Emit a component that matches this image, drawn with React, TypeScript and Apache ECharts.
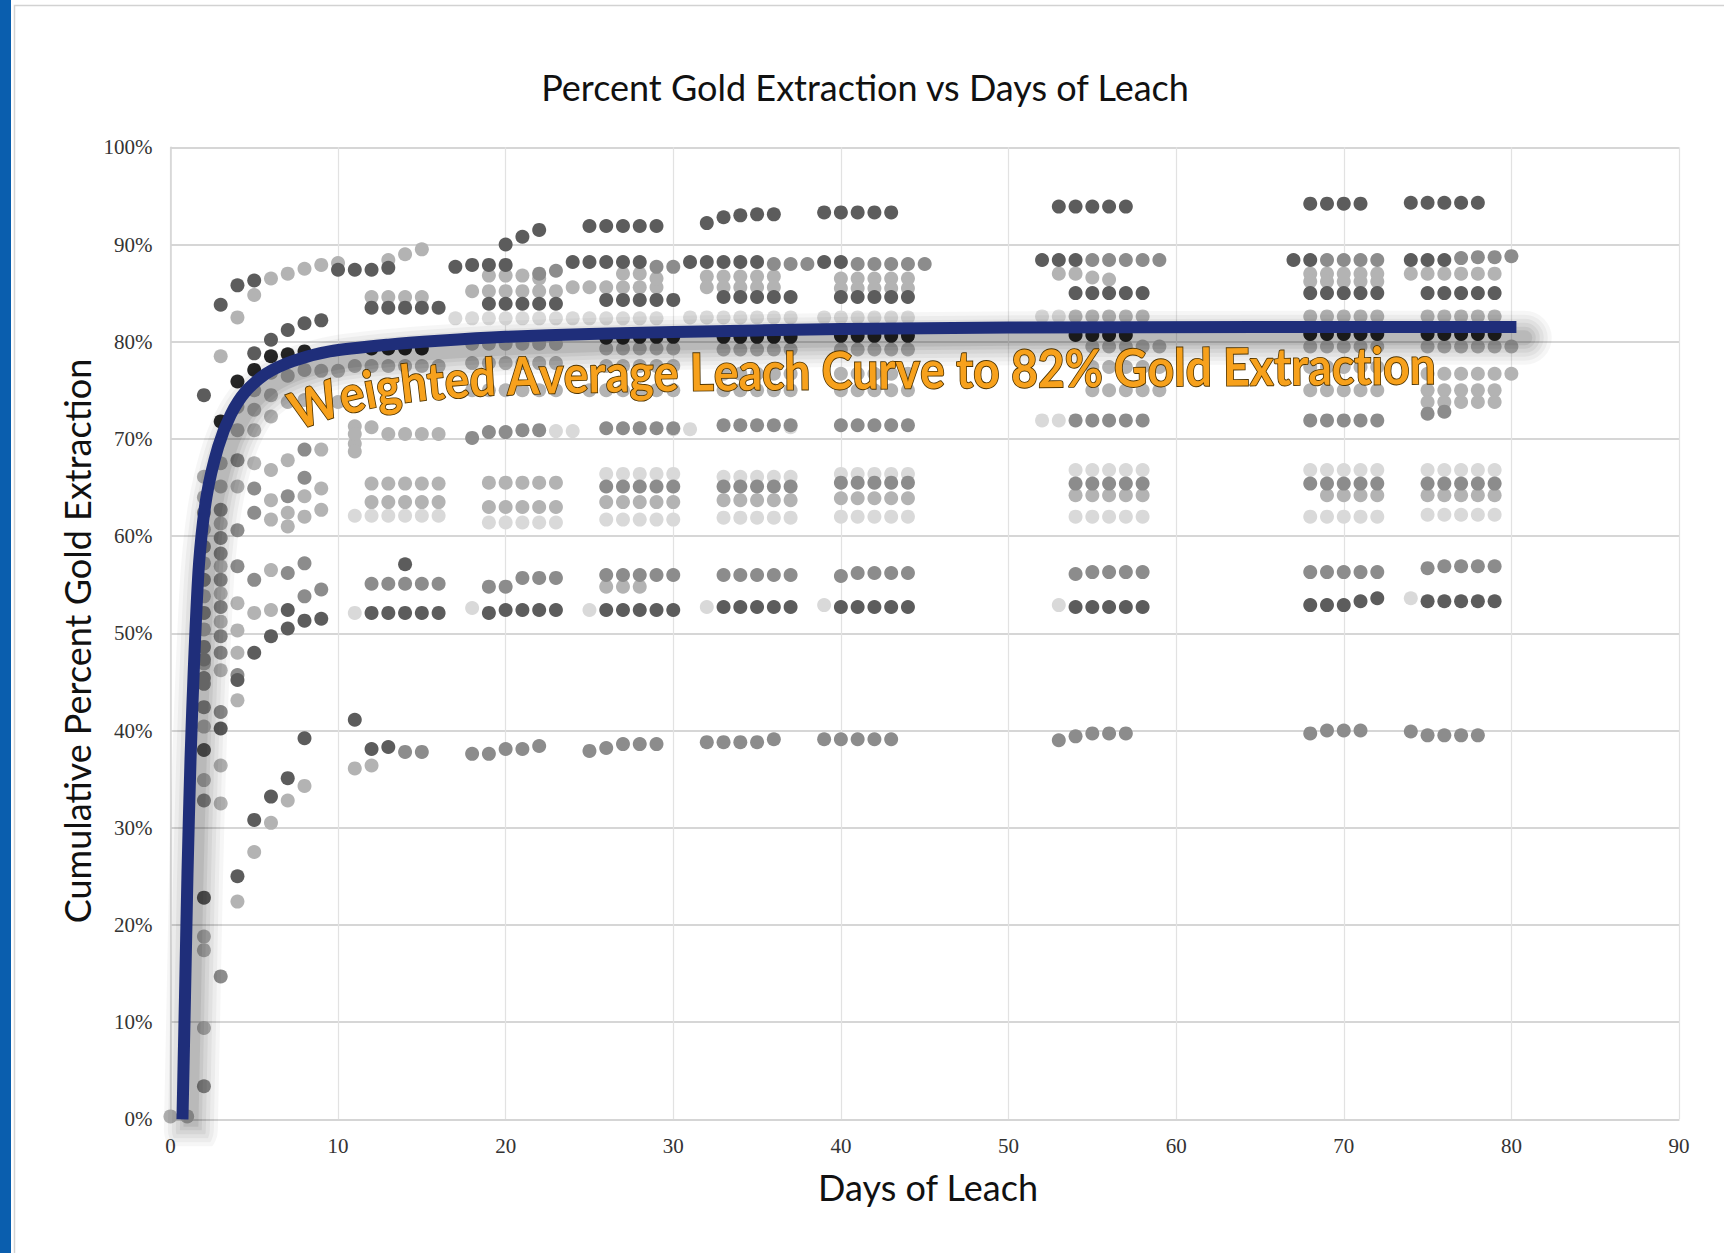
import React, { useEffect, useRef } from "react";
import * as echarts from "echarts";

// ---------- data ----------
const titleText = "Percent Gold Extraction vs Days of Leach";
const xAxisName = "Days of Leach";
const yAxisName = "Cumulative Percent Gold Extraction";
const curveLabel = "Weighted Average Leach Curve to 82% Gold Extraction";

// weighted average leach curve
const curveDays = [0.72, 0.87, 1.02, 1.2, 1.41, 1.71, 2.16, 2.85, 3.6, 4.5, 5.7, 7.3, 9.5, 13, 16, 20, 25, 30, 40, 50, 65, 80.3];
const curvePct = [0, 12.5, 25.3, 37, 46.9, 57.2, 64.1, 69.2, 72.5, 74.9, 76.7, 78.0, 79.0, 79.7, 80.1, 80.5, 80.8, 81.0, 81.3, 81.45, 81.5, 81.5];

// runs: [first day, value on that day, value next day, ...]
const blackRuns = [
  [3, 71.8, 75.9, 77.1, 78.5, 78.7, 79.0],
  [12, 79.3, 79.3, 79.3, 79.3],
  [26, 80.4, 80.4, 80.5, 80.5, 80.5],
  [33, 80.5, 80.5, 80.5, 80.5, 80.5],
  [40, 80.6, 80.6, 80.6, 80.6, 80.6],
  [54, 80.7, 80.7, 80.7, 80.7],
  [68, 80.8, 80.8, 80.8, 80.8, 80.8],
  [75, 80.8, 80.8, 80.8, 80.8, 80.8],
];

const darkRuns = [
  [2, 74.5], [3, 83.8, 85.8, 86.3], [5, 78.8], [6, 80.2, 81.2, 81.9, 82.2],
  [10, 87.4, 87.4, 87.4, 87.6],
  [4, 45.2, 48.0, 49.7, 50.5, 51.3, 51.5], [7, 52.4],
  [2, 38.0, 40.2], [4, 25.0, 30.8, 33.2, 35.1, 39.2], [11, 41.1], [2, 22.8],
  [12, 83.5, 83.5, 83.5, 83.5, 83.5], [14, 57.1], [12, 52.1, 52.1, 52.1, 52.1, 52.1], [12, 38.1, 38.3],
  [17, 87.7, 87.9, 87.9, 87.9], [20, 90.0, 90.8, 91.5], [19, 83.9, 83.9, 83.9, 83.9, 83.9], [19, 52.1, 52.4, 52.4, 52.4, 52.4],
  [25, 91.9, 91.9, 91.9, 91.9, 91.9], [24, 88.2, 88.2, 88.2, 88.2, 88.2], [26, 84.3, 84.3, 84.3, 84.3, 84.3], [26, 52.4, 52.4, 52.4, 52.4, 52.4],
  [32, 92.2, 92.8, 93.0, 93.1, 93.1], [31, 88.2, 88.2, 88.2, 88.2, 88.2], [33, 84.6, 84.6, 84.6, 84.6, 84.6], [33, 52.7, 52.7, 52.7, 52.7, 52.7],
  [39, 93.3, 93.3, 93.3, 93.3, 93.3], [39, 88.2, 88.2], [40, 84.6, 84.6, 84.6, 84.6, 84.6], [40, 52.7, 52.7, 52.7, 52.7, 52.7],
  [53, 93.9, 93.9, 93.9, 93.9, 93.9], [52, 88.4, 88.4, 88.4], [54, 85.0, 85.0, 85.0, 85.0, 85.0], [54, 52.7, 52.7, 52.7, 52.7, 52.7],
  [68, 94.2, 94.2, 94.2, 94.2], [67, 88.4, 88.4], [68, 85.0, 85.0, 85.0, 85.0, 85.0], [68, 52.9, 52.9, 52.9, 53.3, 53.6],
  [74, 94.3, 94.3, 94.3, 94.3, 94.3], [74, 88.4, 88.4, 88.4], [75, 85.0, 85.0, 85.0, 85.0, 85.0], [75, 53.3, 53.3, 53.3, 53.3, 53.3],
];

// cols: [day, value, value, ...]
const midCols = [
  [2, 62.4, 58.9, 55.5, 52.1, 48.6, 47.3, 45.4, 44.8, 42.4, 32.8, 3.4],
  [3, 62.7, 59.8, 58.2, 55.5, 52.7, 49.7, 48.0, 41.9, 14.7],
  [4, 67.8, 60.6, 56.9, 45.7],
  [5, 64.9, 62.4, 55.5],
  [7, 64.1, 56.2],
  [8, 68.9, 66.0, 57.2, 53.8],
  [9, 54.5],
];

const midRuns = [
  [12, 55.1, 55.1, 55.1, 55.1, 55.1], [14, 37.8, 37.8],
  [22, 87.0, 87.3], [19, 54.8, 54.8], [21, 55.7, 55.7, 55.7], [18, 37.6, 37.6, 38.1, 38.1, 38.4], [18, 70.1, 70.7, 70.7, 70.9, 70.9],
  [29, 87.7, 87.7], [26, 71.1, 71.1, 71.1, 71.1, 71.1], [26, 65.1, 65.1, 65.1, 65.1, 65.1], [26, 56.0, 56.0, 56.0, 56.0, 56.0], [25, 37.9, 38.2, 38.6, 38.6, 38.6],
  [36, 88.0, 88.0, 88.0], [33, 71.4, 71.4, 71.4, 71.4, 71.4], [33, 65.1, 65.1, 65.1, 65.1, 65.1], [33, 56.0, 56.0, 56.0, 56.0, 56.0], [32, 38.8, 38.8, 38.8, 38.8, 39.1],
  [41, 88.0, 88.0, 88.0, 88.0, 88.0], [40, 71.4, 71.4, 71.4, 71.4, 71.4], [40, 65.5, 65.5, 65.5, 65.5, 65.5], [40, 55.9, 56.2, 56.2, 56.2, 56.2], [39, 39.1, 39.1, 39.1, 39.1, 39.1],
  [55, 88.4, 88.4, 88.4, 88.4, 88.4], [54, 71.9, 71.9, 71.9, 71.9, 71.9], [54, 65.4, 65.4, 65.4, 65.4, 65.4], [54, 56.1, 56.3, 56.3, 56.3, 56.3], [53, 39.0, 39.4, 39.7, 39.7, 39.7],
  [69, 88.4, 88.4, 88.4, 88.4], [68, 71.9, 71.9, 71.9, 71.9, 71.9], [68, 65.4, 65.4, 65.4, 65.4, 65.4], [68, 56.3, 56.3, 56.3, 56.3, 56.3], [68, 39.7, 40.0, 40.0, 40.0],
  [77, 88.6, 88.7, 88.7, 88.8], [75, 72.6, 72.8], [75, 65.4, 65.4, 65.4, 65.4, 65.4], [75, 56.7, 56.9, 56.9, 56.9, 56.9], [74, 39.9, 39.5, 39.5, 39.5, 39.5],
];

const lightCols = [
  [0, 0.3], [1, 0.3],
  [2, 66.1, 64.0, 60.7, 57.2, 53.8, 50.4, 46.9, 40.4, 34.9, 18.8, 17.4, 9.4],
  [3, 78.5, 67.5, 65.1, 61.3, 56.9, 54.1, 51.2, 46.2, 36.4, 32.5],
  [4, 82.5, 73.3, 70.9, 65.1, 53.1, 50.3, 48.0, 43.1, 22.4],
  [5, 84.8, 75.0, 73.0, 70.9, 67.5, 52.1, 27.5],
  [6, 86.5, 76.8, 74.5, 72.3, 66.8, 63.7, 61.7, 56.5, 52.4, 30.5],
  [7, 87.0, 76.5, 73.8, 67.8, 62.4, 61.0, 32.8],
  [8, 87.5, 77.1, 74.0, 64.1, 62.0, 34.3],
  [9, 87.9, 77.0, 68.9, 64.9, 62.7],
  [10, 88.1, 77.0, 73.8],
  [11, 71.3, 69.5, 68.7, 36.1],
  [12, 36.4],
];

const lightRuns = [
  [13, 88.4, 89.0, 89.5], [12, 84.6, 84.6, 84.6, 84.6], [11, 77.5, 77.5, 77.5, 77.5, 77.5, 77.5],
  [11, 70.5, 71.2, 70.5, 70.5, 70.5, 70.5], [12, 65.4, 65.4, 65.4, 65.4, 65.4], [12, 63.5, 63.5, 63.5, 63.5, 63.5],
  [19, 86.8, 86.8, 86.8, 86.5], [18, 85.2, 85.2, 85.2, 85.2, 85.2, 85.2], [18, 79.8, 79.8, 79.8, 79.8, 79.8, 79.8],
  [18, 77.8, 77.8, 77.8, 77.8, 77.8, 77.8], [18, 75.0, 75.0, 75.0, 75.0, 75.0, 75.0], [19, 65.5, 65.5, 65.5, 65.5, 65.5], [19, 63.0, 63.0, 63.0, 63.0, 63.0],
  [24, 85.6, 85.6, 85.6, 85.6, 85.6, 85.6], [27, 87.0, 87.0, 86.5], [26, 79.3, 79.3, 79.3, 79.3, 79.3], [26, 77.5, 77.5, 77.5, 77.5, 77.5],
  [25, 75.0, 75.0, 75.0, 75.0, 75.0, 75.0], [26, 63.5, 63.5, 63.5, 63.5, 63.5], [26, 54.8, 54.8, 54.8],
  [32, 86.7, 86.7, 86.7, 86.7, 86.7], [32, 85.6, 85.6, 85.6, 85.6, 85.6], [33, 79.2, 79.2, 79.2, 79.2, 79.2],
  [33, 76.7, 76.7, 76.7, 76.7, 76.7], [33, 75.0, 75.0, 75.0, 75.0, 75.0], [33, 63.7, 63.7, 63.7, 63.7, 63.7],
  [40, 86.5, 86.5, 86.5, 86.5, 86.5], [40, 85.5, 85.5, 85.5, 85.5, 85.5], [40, 79.2, 79.2, 79.2, 79.2, 79.2],
  [40, 76.7, 76.7, 76.7, 76.7, 76.7], [40, 75.0, 75.0, 75.0, 75.0, 75.0], [40, 63.9, 63.9, 63.9, 63.9, 63.9],
  [53, 87.0, 87.0, 86.6, 86.4], [54, 82.6, 82.6, 82.6, 82.6, 82.6], [55, 79.5, 79.5, 79.5, 79.5, 79.5],
  [55, 77.4, 77.4, 77.4, 77.4, 77.4], [55, 75.0, 75.0, 75.0, 75.0, 75.0], [54, 64.2, 64.2, 64.2, 64.2, 64.2],
  [68, 87.0, 87.0, 87.0, 87.0, 87.0], [68, 86.2, 86.2, 86.2, 86.2, 86.2], [68, 82.6, 82.6, 82.6, 82.6, 82.6],
  [68, 79.5, 79.5, 79.5, 79.5, 79.5], [68, 77.4, 77.4, 77.4, 77.4, 77.4], [68, 75.0, 75.0, 75.0, 75.0, 75.0], [69, 64.2, 64.2, 64.2, 64.2],
  [74, 87.0, 87.0, 87.0, 87.0, 87.0, 87.0], [75, 82.6, 82.6, 82.6, 82.6, 82.6], [75, 79.5, 79.5, 79.5, 79.5, 79.5, 79.5],
  [75, 76.7, 76.7, 76.7, 76.7, 76.7, 76.7], [75, 75.0, 75.0, 75.0, 75.0, 75.0], [75, 73.8, 73.8, 73.8, 73.8, 73.8], [75, 64.2, 64.2, 64.2, 64.2, 64.2],
];

const faintRuns = [
  [11, 62.1, 62.1, 62.1, 62.1, 62.1, 62.1], [11, 52.1],
  [19, 61.4, 61.4, 61.4, 61.4, 61.4], [18, 52.6], [17, 82.4, 82.4, 82.4, 82.4, 82.4, 82.4, 82.4], [23, 70.8, 70.8],
  [26, 61.7, 61.7, 61.7, 61.7, 61.7], [25, 52.4], [24, 82.4, 82.4, 82.4, 82.4, 82.4, 82.4], [26, 66.4, 66.4, 66.4, 66.4, 66.4], [30, 71.0, 71.0],
  [33, 61.9, 61.9, 61.9, 61.9, 61.9], [32, 52.7], [31, 82.5, 82.5, 82.5, 82.5, 82.5, 82.5, 82.5], [33, 66.1, 66.1, 66.1, 66.1, 66.1], [37, 71.2],
  [40, 62.0, 62.0, 62.0, 62.0, 62.0], [39, 52.9], [39, 82.5, 82.5, 82.5, 82.5, 82.5, 82.5], [40, 66.4, 66.4, 66.4, 66.4, 66.4],
  [54, 62.0, 62.0, 62.0, 62.0, 62.0], [53, 52.9], [52, 71.9, 71.9], [54, 66.8, 66.8, 66.8, 66.8, 66.8], [52, 82.6, 82.6],
  [68, 62.0, 62.0, 62.0, 62.0, 62.0], [68, 66.8, 66.8, 66.8, 66.8, 66.8],
  [75, 62.2, 62.2, 62.2, 62.2, 62.2], [74, 53.6], [75, 66.8, 66.8, 66.8, 66.8, 66.8],
];

// drop shadow of the curve: offset (in axis units) and soft layers
const shadowShift = [0.5, -1.1];
const shadowLayers = [
  { width: 54, alpha: 0.035 },
  { width: 46, alpha: 0.04 },
  { width: 38, alpha: 0.045 },
  { width: 30, alpha: 0.05 },
  { width: 22, alpha: 0.06 },
  { width: 15, alpha: 0.07 },
];

// ---------- helpers ----------
const fromRuns = (runs: number[][]) =>
  runs.flatMap((r) => r.slice(1).map((v, i) => [r[0] + i, v]));
const fromCols = (cols: number[][]) =>
  cols.flatMap((c) => c.slice(1).map((v) => [c[0], v]));

function buildCurvedLabel(text: string, x0: number, y0: number, targetWidth: number) {
  const ctx = document.createElement("canvas").getContext("2d")!;
  const family = "Lato";
  ctx.font = `bold 100px ${family}`;
  const fs = (100 * targetWidth) / ctx.measureText(text).width;
  const font = `bold ${fs}px ${family}`;
  ctx.font = font;
  const a0 = (26 * Math.PI) / 180;
  const aInf = (0.5 * Math.PI) / 180;
  const L = 85;
  const phi = (s: number) => -(aInf + a0 * Math.exp(-s / L));
  const N = Math.ceil(targetWidth + 200);
  const px: number[] = [x0];
  const py: number[] = [y0];
  for (let s = 1; s <= N; s++) {
    const p = phi(s - 0.5);
    px.push(px[s - 1] + Math.cos(p));
    py.push(py[s - 1] + Math.sin(p));
  }
  const at = (s: number) => {
    const i = Math.max(0, Math.min(N - 1, Math.floor(s)));
    const f = s - i;
    return [px[i] + (px[i + 1] - px[i]) * f, py[i] + (py[i + 1] - py[i]) * f];
  };
  const els: any[] = [];
  let s = 0;
  for (const ch of text) {
    const w = ctx.measureText(ch).width;
    if (ch !== " ") {
      const sm = s + w / 2;
      const [bx, by] = at(sm);
      const p = phi(sm);
      const off = 0.36 * fs;
      const cx = bx + off * Math.sin(p);
      const cy = by - off * Math.cos(p);
      els.push({
        type: "text",
        x: cx,
        y: cy,
        rotation: -p,
        scaleY: 1.12,
        z: 100,
        style: {
          text: ch,
          font,
          fill: "#f7a11c",
          stroke: "#4d3300",
          lineWidth: 1.6,
          align: "center",
          verticalAlign: "middle",
          shadowBlur: 4,
          shadowColor: "rgba(0,0,0,0.35)",
          shadowOffsetX: 2,
          shadowOffsetY: 2,
        },
      });
    }
    s += w;
  }
  return els;
}

export default function App() {
  const ref = useRef<HTMLDivElement>(null);

  useEffect(() => {
    if (!ref.current) return;
    const chart = echarts.init(ref.current, undefined, { renderer: "svg" });

    const dotSeries = (name: string, data: number[][], color: string, z: number) => ({
      name,
      type: "scatter",
      data,
      symbol: "circle",
      symbolSize: 14,
      itemStyle: { color, opacity: 1 },
      silent: true,
      z,
    });

    const curveData = curveDays.map((d, i) => [d, curvePct[i]]);
    const shadowData = curveDays.map((d, i) => [d + shadowShift[0], curvePct[i] + shadowShift[1]]);

    const shadowSeries = shadowLayers.map((l, k) => ({
      name: "shadow" + k,
      type: "line",
      data: shadowData,
      smooth: 0.25,
      showSymbol: false,
      symbol: "none",
      silent: true,
      z: 8,
      lineStyle: { color: `rgba(0,0,0,${l.alpha})`, width: l.width, cap: "round", join: "round" },
    }));

    const serif = "'Liberation Serif', 'Times New Roman', serif";
    const sans = "Lato, 'Noto Sans', sans-serif";

    const labelEls = buildCurvedLabel(curveLabel, 297, 428, 1135);

    chart.setOption({
      animation: false,
      backgroundColor: "#ffffff",
      grid: { left: 170.4, right: 45, top: 147.3, bottom: 133.7, containLabel: false },
      xAxis: {
        type: "value",
        min: 0,
        max: 90,
        interval: 10,
        axisLine: { show: true, lineStyle: { color: "#d4d4d4", width: 1.5 } },
        axisTick: { show: false },
        axisLabel: { fontFamily: serif, fontSize: 21, color: "#333", margin: 16 },
        splitLine: { show: true, lineStyle: { color: "#e2e2e2", width: 1.2 } },
      },
      yAxis: {
        type: "value",
        min: 0,
        max: 100,
        interval: 10,
        axisLine: { show: true, lineStyle: { color: "#d4d4d4", width: 1.5 } },
        axisTick: { show: false },
        axisLabel: { fontFamily: serif, fontSize: 21, color: "#333", margin: 18, formatter: "{value}%" },
        splitLine: { show: true, lineStyle: { color: "#d6d6d6", width: 2 } },
      },
      series: [
        dotSeries("faint", fromRuns(faintRuns), "#d9d9d9", 2),
        dotSeries("light", [...fromCols(lightCols), ...fromRuns(lightRuns)], "#b3b3b3", 3),
        dotSeries("mid", [...fromCols(midCols), ...fromRuns(midRuns)], "#8c8c8c", 4),
        dotSeries("dark", fromRuns(darkRuns), "#5c5c5c", 5),
        dotSeries("black", fromRuns(blackRuns), "#262626", 6),
        ...shadowSeries,
        {
          name: "Weighted average",
          type: "line",
          data: curveData,
          smooth: 0.25,
          showSymbol: false,
          symbol: "none",
          silent: true,
          z: 10,
          lineStyle: { color: "#1f2e7a", width: 12, cap: "butt", join: "round" },
        },
      ],
      graphic: [
        { type: "rect", z: -10, shape: { x: 0, y: 0, width: 11, height: 1253 }, style: { fill: "#0a5eae" } },
        {
          type: "rect",
          z: -10,
          shape: { x: 14.5, y: 5.5, width: 1740, height: 1260 },
          style: { fill: "none", stroke: "#d2d2d2", lineWidth: 1.5 },
        },
        {
          type: "text",
          x: 865,
          y: 87,
          style: {
            text: titleText,
            font: `36px ${sans}`,
            fill: "#111",
            align: "center",
            verticalAlign: "middle",
          },
        },
        {
          type: "text",
          x: 928,
          y: 1187,
          style: {
            text: xAxisName,
            font: `36px ${sans}`,
            fill: "#111",
            align: "center",
            verticalAlign: "middle",
          },
        },
        {
          type: "text",
          x: 77,
          y: 641,
          rotation: Math.PI / 2,
          style: {
            text: yAxisName,
            font: `36px ${sans}`,
            fill: "#111",
            align: "center",
            verticalAlign: "middle",
          },
        },
        ...labelEls,
      ],
    });

    return () => chart.dispose();
  }, []);

  return (
    <div
      ref={ref}
      style={{ position: "absolute", left: 0, top: 0, width: 1724, height: 1253, background: "#fff" }}
    />
  );
}
